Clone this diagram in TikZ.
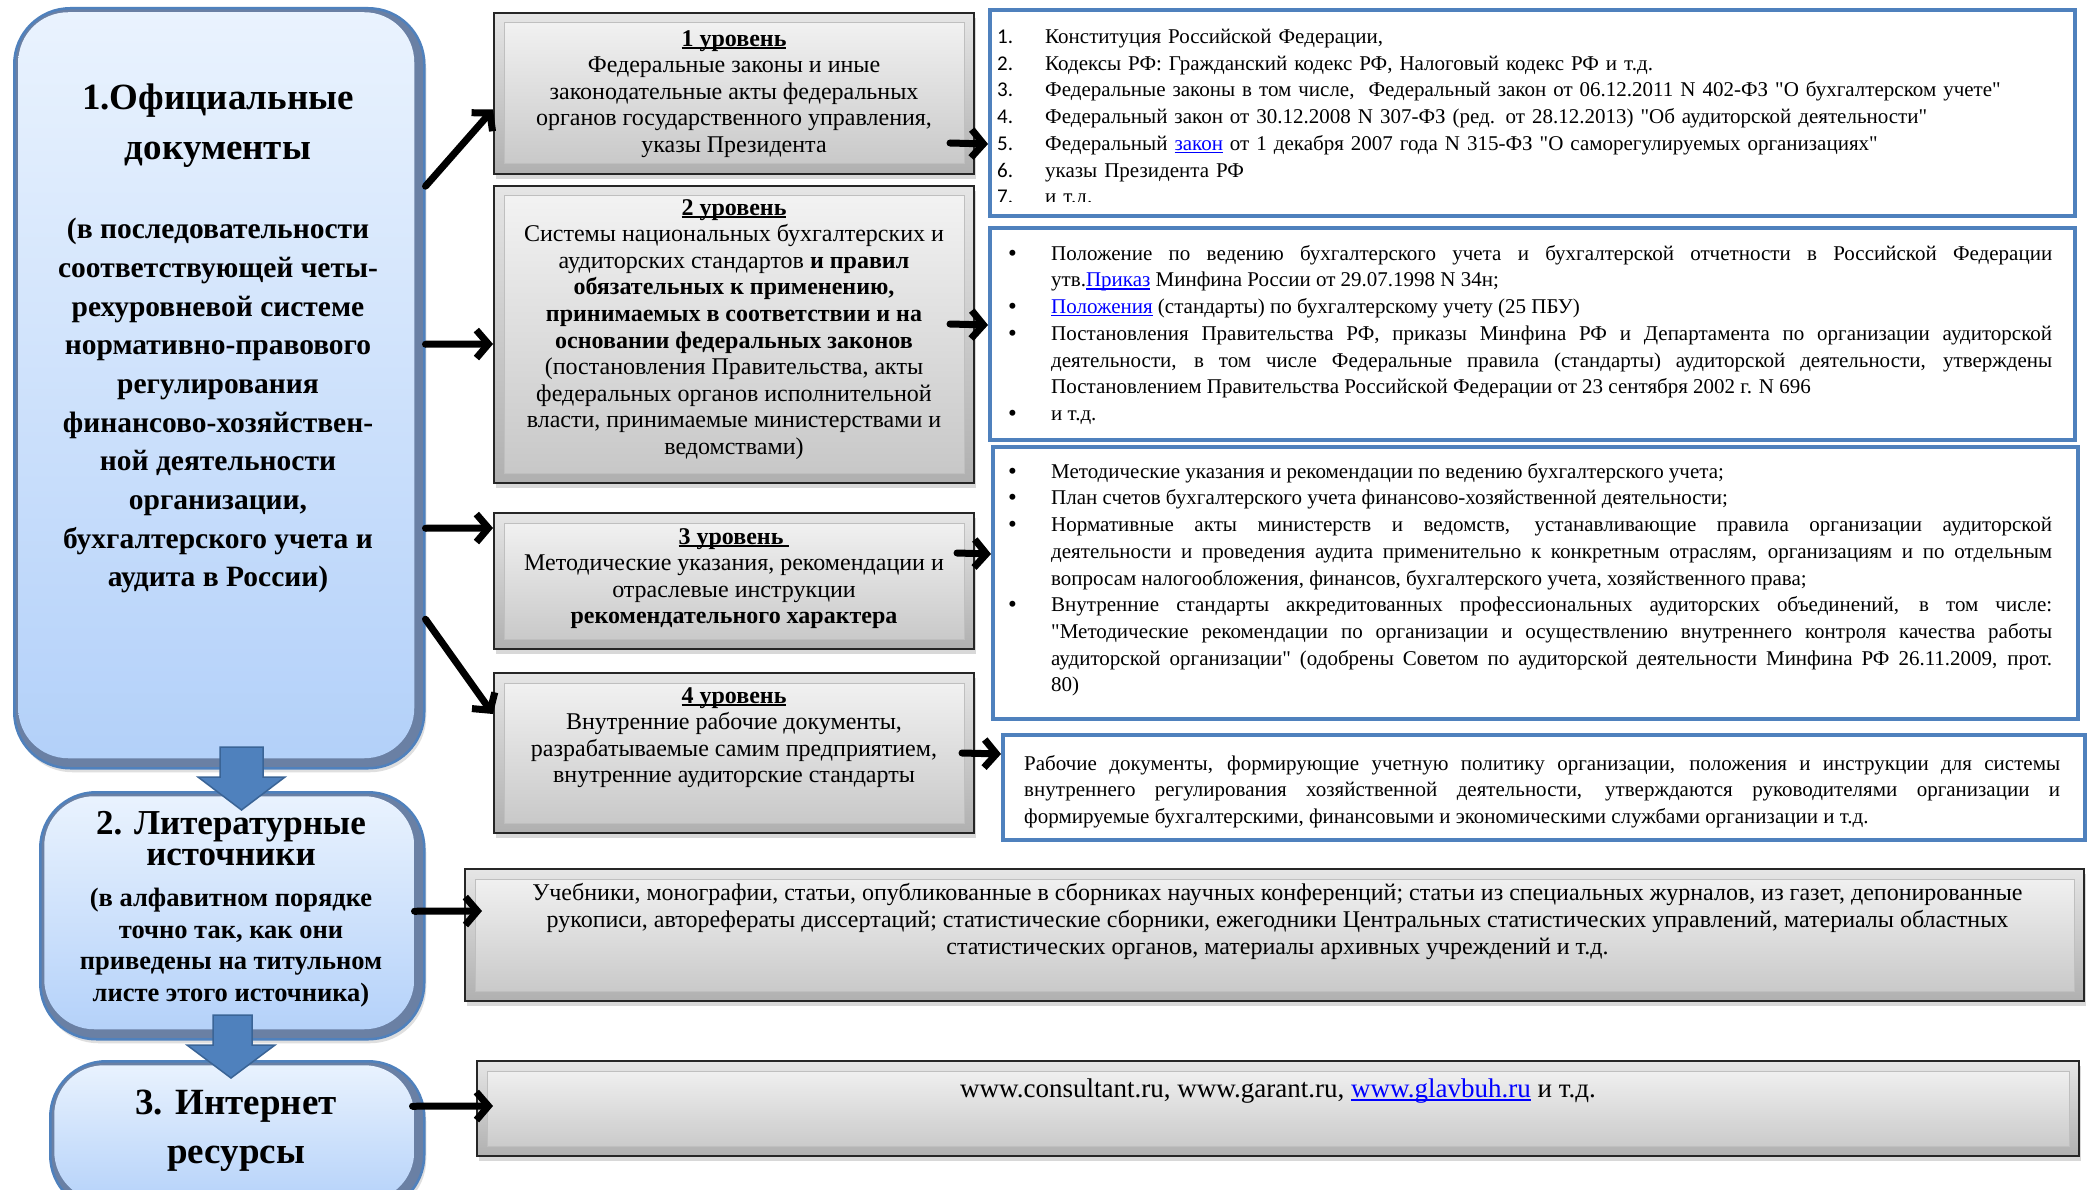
\documentclass[tikz,border=0pt]{standalone}
\usepackage{fontspec}
\setmainfont{Liberation Serif}
\newfontfamily\numfont{Carlito}
\usetikzlibrary{arrows.meta,shadows,calc}
\definecolor{bluebd}{HTML}{4F81BD}
\definecolor{bluetop}{HTML}{EAF3FE}
\definecolor{bluebot}{HTML}{B2D0F9}
\definecolor{bluebev}{HTML}{6A80A4}
\definecolor{linkblue}{HTML}{0000FF}
\definecolor{arrfill}{HTML}{4F81BD}
\definecolor{arrdraw}{HTML}{3A6496}
\definecolor{panT}{HTML}{F4F4F4}
\definecolor{panB}{HTML}{C6C6C6}
\newcommand\q{\XeTeXglyph\XeTeXcharglyph"22\relax}
\newcommand\myul[1]{\setbox0\hbox{#1}\rlap{\rule[-2.6pt]{\wd0}{1.2pt}}\box0}
\newcommand\bitem[1]{\hangindent=43pt\hangafter=1\noindent\makebox[43pt][l]{\raisebox{-1pt}{\fontsize{25}{25}\selectfont\textbullet}}#1\par}
\newcommand\nitem[2]{\noindent\makebox[48pt][l]{\numfont #1}#2\par}
\newcommand\lnk[1]{\textcolor{linkblue}{\myul{#1}}}
\tikzset{
  bluebox/.style={rounded corners=56pt, draw=bluebd, line width=2.5pt, fill=bluebev,
    inner sep=0pt, anchor=north west,
    drop shadow={opacity=0.25,shadow xshift=2pt,shadow yshift=-4pt},
    path picture={\shade[top color=bluetop,bottom color=bluebot,rounded corners=50pt]
      ([shift={(4pt,-4pt)}]path picture bounding box.north west) rectangle
      ([shift={(-10pt,10pt)}]path picture bounding box.south east);}},
  graybox/.style={draw=black!85, line width=2pt, top color=gray!20, bottom color=gray!62,
    inner sep=0pt, anchor=north west,
    drop shadow={opacity=0.3,shadow xshift=2pt,shadow yshift=-5pt},
    path picture={\shade[top color=panT,bottom color=panB,draw=gray!50,line width=1pt]
      ([shift={(10pt,-10pt)}]path picture bounding box.north west) rectangle
      ([shift={(-10pt,10pt)}]path picture bounding box.south east);}},
  listbox/.style={draw=bluebd, line width=4pt, fill=white, inner sep=0pt, anchor=north west},
  lvtext/.style={align=center, inner sep=0pt, anchor=north, font=\fontsize{24}{26.6}\selectfont},
  jtext/.style={align=justify, inner sep=0pt, anchor=north west, font=\fontsize{21}{26.7}\selectfont},
  ttl/.style={align=center, inner sep=0pt, anchor=north},
  arr/.style={line width=7pt, line cap=round, line join=round, -{Straight Barb[length=12pt,width=28pt]}},
  blockarr/.style={fill=arrfill, draw=arrdraw, line width=1.5pt, line join=miter}
}
\begin{document}
\begin{tikzpicture}[x=1pt,y=-1pt]
\useasboundingbox (0,0) rectangle (2087,1190);
\clip (0,0) rectangle (2087,1190);
\fill[white] (0,0) rectangle (2087,1190);

% left blue boxes
\node[bluebox, minimum width=410pt, minimum height=760pt] (L1) at (13,7) {};
\node[bluebox, minimum width=384pt, minimum height=247pt] (L2) at (39,791) {};
\node[bluebox, minimum width=374pt, minimum height=150pt] (L3) at (49,1060) {};

% gray boxes
\node[graybox, minimum width=480pt, minimum height=161pt] (lv1) at (493,12) {};
\node[graybox, minimum width=480pt, minimum height=297pt] (lv2) at (493,185) {};
\node[graybox, minimum width=480pt, minimum height=136pt] (lv3) at (493,512) {};
\node[graybox, minimum width=480pt, minimum height=160pt] (lv4) at (493,672) {};
\node[graybox, minimum width=1619pt, minimum height=132pt] (lit) at (464,868) {};
\node[graybox, minimum width=1602pt, minimum height=95pt] (inet) at (476,1060) {};

% list boxes
\node[listbox, minimum width=1085pt, minimum height=206pt] (ls1) at (988,8) {};
\node[listbox, minimum width=1085pt, minimum height=212pt] (ls2) at (988,226) {};
\node[listbox, minimum width=1085pt, minimum height=272pt] (ls3) at (991,445) {};
\node[listbox, minimum width=1082pt, minimum height=105pt] (ls4) at (1001,733) {};

% left texts
\node[ttl, font=\bfseries\fontsize{37}{50}\selectfont] (t1) at (218,84) {1.Официальные\\документы};
\node[ttl, font=\bfseries\fontsize{29.5}{38.7}\selectfont] (t1s) at (218,218) {(в последовательности\\соответствующей четы-\\рехуровневой системе\\нормативно-правового\\регулирования\\финансово-хозяйствен-\\ной деятельности\\организации,\\бухгалтерского учета и\\аудита в России)};
\node[ttl, font=\bfseries\fontsize{35}{31}\selectfont] (t2) at (231,811) {2. Литературные\\источники};
\node[ttl, font=\bfseries\fontsize{26.5}{31.5}\selectfont] (t2s) at (231,888) {(в алфавитном порядке\\точно так, как они\\приведены на титульном\\листе этого источника)};
\node[ttl, font=\bfseries\fontsize{37}{49}\selectfont] (t3) at (236,1090) {3. Интернет\\ресурсы};

% level texts
\node[lvtext] (lv1t) at ([yshift=-18pt]lv1.north) {\myul{\textbf{1 уровень}}\\Федеральные законы и иные\\законодательные акты федеральных\\органов государственного управления,\\указы Президента};
\node[lvtext] (lv2t) at ([yshift=-14pt]lv2.north) {\myul{\textbf{2 уровень}}\\Системы национальных бухгалтерских и\\аудиторских стандартов \textbf{и правил}\\\textbf{обязательных к применению,}\\\textbf{принимаемых в соответствии и на}\\\textbf{основании федеральных законов}\\(постановления Правительства, акты\\федеральных органов исполнительной\\власти, принимаемые министерствами и\\ведомствами)};
\node[lvtext] (lv3t) at ([yshift=-16pt]lv3.north) {\myul{\textbf{3 уровень }}\\Методические указания, рекомендации и\\отраслевые инструкции\\\textbf{рекомендательного характера}};
\node[lvtext] (lv4t) at ([yshift=-15pt]lv4.north) {\myul{\textbf{4 уровень}}\\Внутренние рабочие документы,\\разрабатываемые самим предприятием,\\внутренние аудиторские стандарты};
\node[lvtext, font=\fontsize{24}{27}\selectfont] (litt) at ([xshift=3pt,yshift=-15pt]lit.north) {Учебники, монографии, статьи, опубликованные в сборниках научных конференций; статьи из специальных журналов, из газет, депонированные\\рукописи, авторефераты диссертаций; статистические сборники, ежегодники Центральных статистических управлений, материалы областных\\статистических органов, материалы архивных учреждений и т.д.};
\node[lvtext, font=\fontsize{27}{30}\selectfont] (inett) at ([yshift=-19pt]inet.north) {www.consultant.ru, www.garant.ru, \lnk{www.glavbuh.ru} и т.д.};

% list texts
\begin{scope}
\clip (988,8) rectangle (2073,202);
\node[jtext, align=left, text width=1070pt] (ls1t) at ([shift={(9pt,-21pt)}]ls1.north west) {%
\nitem{1.}{Конституция Российской Федерации,}
\nitem{2.}{Кодексы РФ: Гражданский кодекс РФ, Налоговый кодекс РФ и т.д.}
\nitem{3.}{Федеральные законы в том числе,\ \ Федеральный закон от 06.12.2011 N 402-ФЗ \q О бухгалтерском учете\q}
\nitem{4.}{Федеральный закон от 30.12.2008 N 307-ФЗ (ред. от 28.12.2013) \q Об аудиторской деятельности\q}
\nitem{5.}{Федеральный \lnk{закон} от 1 декабря 2007 года N 315-ФЗ \q О саморегулируемых организациях\q}
\nitem{6.}{указы Президента РФ}
\nitem{7.}{и т.д.}};
\end{scope}
\node[jtext, text width=1044pt] (ls2t) at ([shift={(20pt,-19pt)}]ls2.north west) {%
\bitem{Положение по ведению бухгалтерского учета и бухгалтерской отчетности в Российской Федерации\linebreak утв.\lnk{Приказ} Минфина России от 29.07.1998 N 34н;}
\bitem{\lnk{Положения} (стандарты) по бухгалтерскому учету (25 ПБУ)}
\bitem{Постановления Правительства РФ, приказы Минфина РФ и Департамента по организации аудиторской\linebreak деятельности, в том числе Федеральные правила (стандарты) аудиторской деятельности, утверждены\linebreak Постановлением Правительства Российской Федерации от 23 сентября 2002 г. N 696}
\bitem{и т.д.}};
\node[jtext, text width=1044pt] (ls3t) at ([shift={(17pt,-18pt)}]ls3.north west) {%
\bitem{Методические указания и рекомендации по ведению бухгалтерского учета;}
\bitem{План счетов бухгалтерского учета финансово-хозяйственной деятельности;}
\bitem{Нормативные акты министерств и ведомств, устанавливающие правила организации аудиторской\linebreak деятельности и проведения аудита применительно к конкретным отраслям, организациям и по отдельным\linebreak вопросам налогообложения, финансов, бухгалтерского учета, хозяйственного права;}
\bitem{Внутренние стандарты аккредитованных профессиональных аудиторских объединений, в том числе:\linebreak \q Методические рекомендации по организации и осуществлению внутреннего контроля качества работы\linebreak аудиторской организации\q\ (одобрены Советом по аудиторской деятельности Минфина РФ 26.11.2009, прот.\linebreak 80)}};
\node[jtext, text width=1036pt, font=\fontsize{21}{26.5}\selectfont] (ls4t) at ([shift={(23pt,-22pt)}]ls4.north west) {%
\noindent Рабочие документы, формирующие учетную политику организации, положения и инструкции для системы\linebreak внутреннего регулирования хозяйственной деятельности, утверждаются руководителями организации и\linebreak формируемые бухгалтерскими, финансовыми и экономическими службами организации и т.д.\par};

% arrows
\draw[arr] ([yshift=202pt]L1.east) -- ([yshift=-16pt]lv1.west);
\draw[arr] ([yshift=44pt]L1.east) -- ([yshift=-9.5pt]lv2.west);
\draw[arr] ([yshift=-140pt]L1.east) -- ([yshift=53pt]lv3.west);
\draw[arr] ([yshift=-231pt]L1.east) -- ([yshift=39pt]lv4.west);
\draw[arr] ([shift={(-25pt,-49.5pt)}]lv1.east) -- ([yshift=-31pt]ls1.west);
\draw[arr] ([shift={(-25pt,10.5pt)}]lv2.east) -- ([yshift=9pt]ls2.west);
\draw[arr] ([shift={(-18pt,28pt)}]lv3.east) -- ([yshift=29pt]ls3.west);
\draw[arr] ([shift={(-13pt,0pt)}]lv4.east) -- ([yshift=33.5pt]ls4.west);
\draw[arr] ([shift={(-11pt,4.5pt)}]L2.east) -- ([shift={(18pt,24pt)}]lit.west);
\draw[arr] ([shift={(-13pt,30pt)}]L3.east) -- ([shift={(17pt,2.5pt)}]inet.west);

% block arrows
\path[blockarr] (220,747) -- (263,747) -- (263,777) -- (285,777) -- (241.5,810) -- (198,777) -- (220,777) -- cycle;
\path[blockarr] (213,1015) -- (252,1015) -- (252,1045) -- (275,1045) -- (231,1078) -- (187,1045) -- (213,1045) -- cycle;
\end{tikzpicture}
\end{document}
